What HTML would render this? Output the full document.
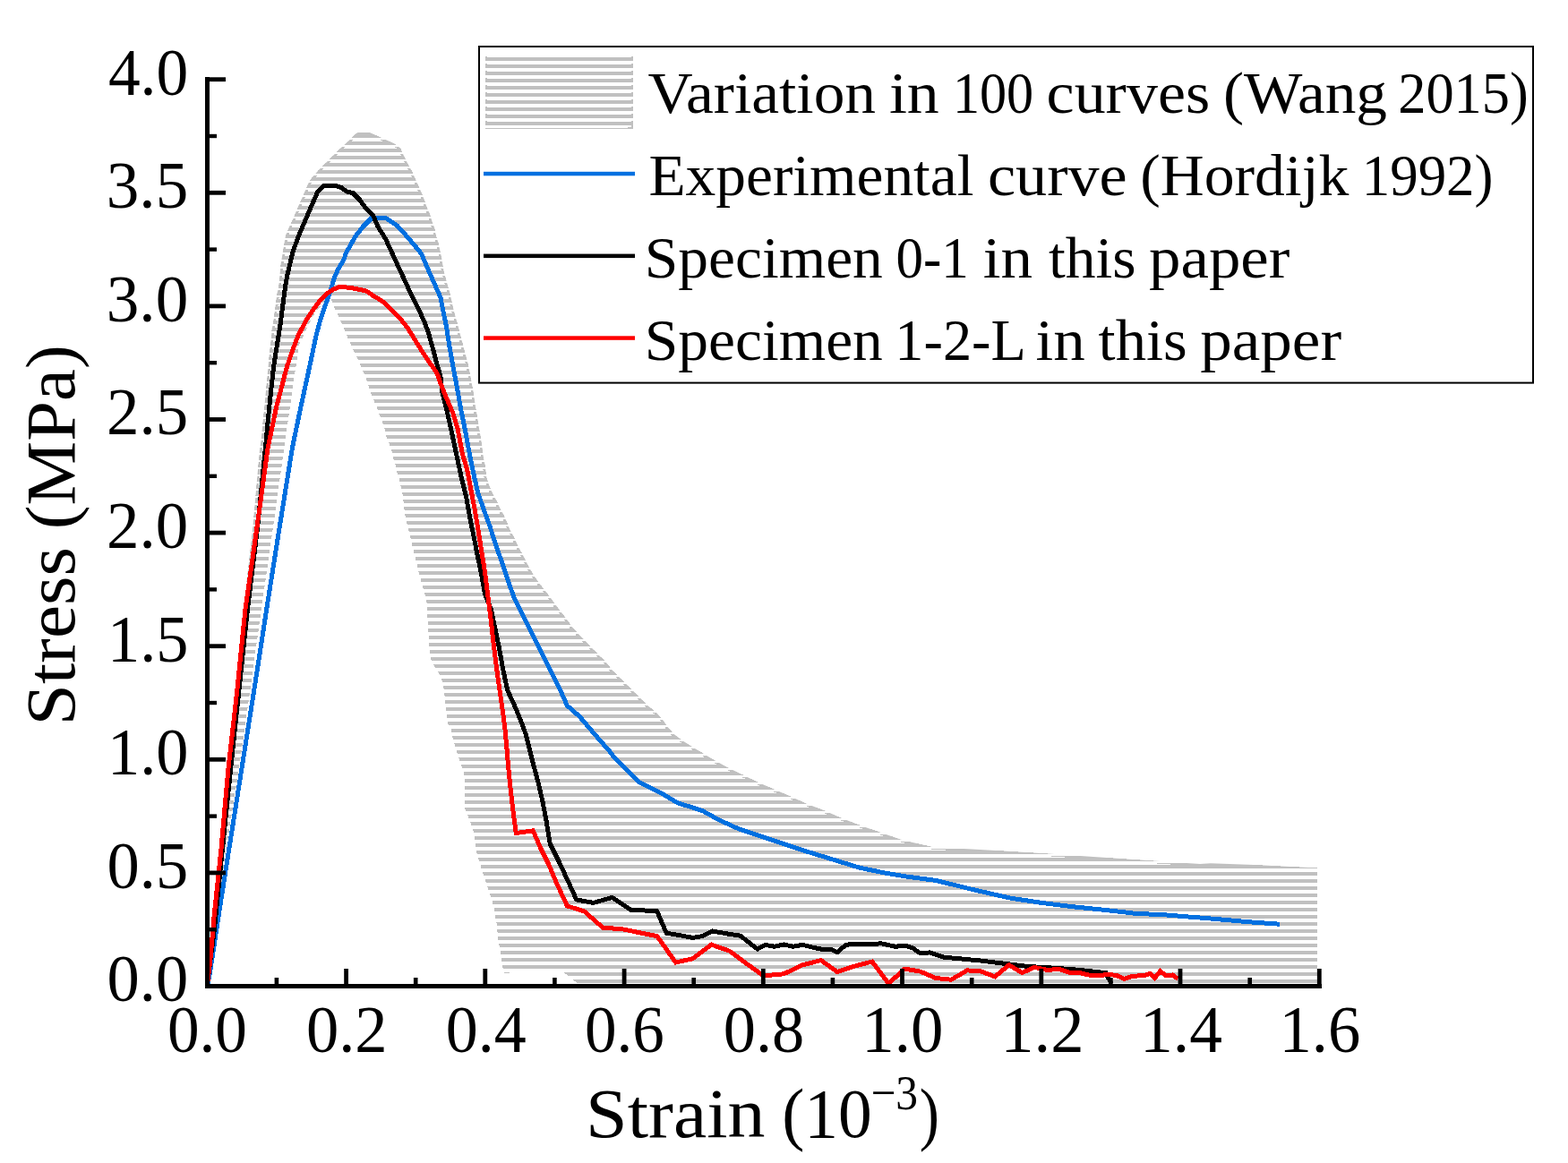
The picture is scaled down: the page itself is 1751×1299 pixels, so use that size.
<!DOCTYPE html>
<html lang="en"><head><meta charset="utf-8"><title>Stress-strain curves</title>
<style>
html,body{margin:0;padding:0;background:#fff;}
body{width:1751px;height:1299px;overflow:hidden;}
svg{display:block;}
text{font-family:"Liberation Serif",serif;fill:#000;}
</style></head><body>
<svg width="1751" height="1299" viewBox="0 0 1751 1299">
<defs>
<pattern id="h" patternUnits="userSpaceOnUse" x="0" y="6" width="8" height="8"><rect x="0" y="0" width="8" height="4" fill="#c0c0c0"/></pattern>
<pattern id="h2" patternUnits="userSpaceOnUse" x="0" y="4" width="8" height="8"><rect x="0" y="0" width="8" height="6" fill="#c0c0c0"/></pattern>
<pattern id="hl" patternUnits="userSpaceOnUse" x="0" y="64" width="8" height="8"><rect x="0" y="0" width="8" height="4" fill="#c0c0c0"/></pattern>
</defs>
<rect width="1751" height="1299" fill="#fff"/>
<clipPath id="cp"><polygon points="231.3,1101.5 237.4,1025.0 245.3,950.0 253.3,860.0 263.3,770.0 272.0,680.0 282.3,589.4 290.2,500.0 291.2,495.0 295.3,454.7 299.2,412.8 299.8,407.3 301.1,392.1 302.2,383.8 303.2,375.4 303.6,367.8 305.3,359.5 306.3,351.9 307.4,343.6 308.4,336.0 309.5,327.6 311.2,320.7 312.0,311.9 313.7,294.6 316.3,279.0 318.9,263.4 323.2,253.0 326.7,246.1 330.2,237.4 333.6,229.6 337.1,221.8 340.5,214.0 344.0,205.4 348.3,198.4 356.1,189.8 363.9,182.0 372.6,173.3 380.4,165.5 389.0,157.7 397.7,149.1 400.3,147.8 412.4,147.8 422.8,152.5 440.1,160.3 447.1,165.5 451.4,175.0 455.7,183.7 460.1,191.5 463.5,199.3 467.0,207.1 470.5,214.9 473.9,223.5 476.5,231.3 480.0,239.1 482.6,247.8 485.2,254.7 486.9,263.4 489.5,271.2 491.2,279.0 493.0,287.6 495.6,303.2 499.9,318.8 502.5,327.5 505.9,343.5 508.0,351.8 510.4,360.1 512.5,367.7 514.5,376.0 516.6,383.7 518.7,392.0 520.8,399.6 522.9,407.9 524.6,416.2 526.0,423.9 528.6,438.1 531.2,455.4 533.8,471.0 536.4,486.6 538.1,497.0 539.8,510.9 541.6,519.5 543.3,533.4 546.8,543.8 550.2,551.6 554.6,559.4 558.0,567.2 562.4,575.0 565.8,582.7 569.3,591.4 573.6,599.2 577.1,607.0 581.4,615.7 582.3,616.7 586.6,625.4 590.9,634.1 596.1,642.7 602.2,651.4 608.3,659.2 614.3,667.0 620.4,675.6 626.5,683.4 632.5,691.2 638.6,699.9 645.5,707.7 653.3,715.5 661.1,724.1 668.9,731.9 676.7,739.7 683.6,748.4 691.4,756.2 699.2,764.0 707.0,771.8 714.8,779.6 723.5,788.2 733.0,796.0 739.9,803.8 746.0,812.5 752.9,820.3 763.3,828.1 777.2,836.7 780.6,838.7 794.5,847.3 812.0,857.0 828.5,865.0 844.7,873.0 863.0,881.0 881.6,889.0 900.0,897.4 921.0,905.5 939.0,913.6 960.0,921.7 983.0,929.7 1006.0,937.8 1041.0,946.0 1103.0,949.4 1170.0,953.5 1280.0,961.0 1340.0,965.0 1352.0,964.3 1400.0,966.0 1471.0,969.5 1471.0,1101.5 646.2,1101.5 645.0,1098.4 629.3,1085.9 597.0,1086.0 563.2,1086.6 561.5,1081.1 556.3,1048.3 555.4,1039.6 554.6,1031.8 552.8,1024.0 552.0,1016.2 550.2,1008.4 547.6,999.8 545.0,992.0 542.4,984.2 539.8,976.4 537.2,968.6 534.6,959.9 532.0,951.3 530.3,937.4 528.6,928.7 526.0,920.1 522.5,911.4 519.1,902.8 519.1,871.6 518.2,864.6 515.6,856.0 513.0,848.2 510.4,840.4 507.8,831.7 505.2,822.9 503.5,814.2 499.8,808.1 498.0,792.5 496.3,775.2 494.6,762.9 490.2,752.5 485.0,743.8 480.7,735.1 479.0,717.8 478.1,702.2 477.2,686.6 476.4,671.1 472.0,655.5 467.7,639.9 464.2,624.3 459.9,607.0 455.6,589.6 452.1,574.1 450.4,558.5 449.5,552.2 447.8,544.4 446.1,535.7 443.5,527.9 441.7,520.1 439.1,511.5 437.4,503.7 434.8,495.9 431.3,487.2 429.6,479.4 427.0,471.6 423.5,463.0 420.9,455.2 417.5,447.4 414.0,438.7 411.4,430.9 408.8,423.1 405.3,414.5 401.9,406.7 398.4,398.9 394.1,390.2 390.6,382.4 387.2,374.6 383.7,366.0 380.2,358.2 376.8,350.4 372.4,341.7 368.8,331.5 363.2,338.0 356.2,344.3 349.3,353.3 346.5,358.8 342.4,367.1 338.6,375.4 334.7,383.1 333.0,392.1 332.0,399.7 330.9,406.6 330.0,412.0 323.8,454.7 317.9,496.0 316.9,503.5 305.8,583.0 291.9,680.0 279.5,770.0 266.7,860.0 252.4,949.4 241.0,1036.0 231.3,1101.5"/></clipPath>
<polygon points="231.3,1101.5 237.4,1025.0 245.3,950.0 253.3,860.0 263.3,770.0 272.0,680.0 282.3,589.4 290.2,500.0 291.2,495.0 295.3,454.7 299.2,412.8 299.8,407.3 301.1,392.1 302.2,383.8 303.2,375.4 303.6,367.8 305.3,359.5 306.3,351.9 307.4,343.6 308.4,336.0 309.5,327.6 311.2,320.7 312.0,311.9 313.7,294.6 316.3,279.0 318.9,263.4 323.2,253.0 326.7,246.1 330.2,237.4 333.6,229.6 337.1,221.8 340.5,214.0 344.0,205.4 348.3,198.4 356.1,189.8 363.9,182.0 372.6,173.3 380.4,165.5 389.0,157.7 397.7,149.1 400.3,147.8 412.4,147.8 422.8,152.5 440.1,160.3 447.1,165.5 451.4,175.0 455.7,183.7 460.1,191.5 463.5,199.3 467.0,207.1 470.5,214.9 473.9,223.5 476.5,231.3 480.0,239.1 482.6,247.8 485.2,254.7 486.9,263.4 489.5,271.2 491.2,279.0 493.0,287.6 495.6,303.2 499.9,318.8 502.5,327.5 505.9,343.5 508.0,351.8 510.4,360.1 512.5,367.7 514.5,376.0 516.6,383.7 518.7,392.0 520.8,399.6 522.9,407.9 524.6,416.2 526.0,423.9 528.6,438.1 531.2,455.4 533.8,471.0 536.4,486.6 538.1,497.0 539.8,510.9 541.6,519.5 543.3,533.4 546.8,543.8 550.2,551.6 554.6,559.4 558.0,567.2 562.4,575.0 565.8,582.7 569.3,591.4 573.6,599.2 577.1,607.0 581.4,615.7 582.3,616.7 586.6,625.4 590.9,634.1 596.1,642.7 602.2,651.4 608.3,659.2 614.3,667.0 620.4,675.6 626.5,683.4 632.5,691.2 638.6,699.9 645.5,707.7 653.3,715.5 661.1,724.1 668.9,731.9 676.7,739.7 683.6,748.4 691.4,756.2 699.2,764.0 707.0,771.8 714.8,779.6 723.5,788.2 733.0,796.0 739.9,803.8 746.0,812.5 752.9,820.3 763.3,828.1 777.2,836.7 780.6,838.7 794.5,847.3 812.0,857.0 828.5,865.0 844.7,873.0 863.0,881.0 881.6,889.0 900.0,897.4 921.0,905.5 939.0,913.6 960.0,921.7 983.0,929.7 1006.0,937.8 1041.0,946.0 1103.0,949.4 1170.0,953.5 1280.0,961.0 1340.0,965.0 1352.0,964.3 1400.0,966.0 1471.0,969.5 1471.0,1101.5 646.2,1101.5 645.0,1098.4 629.3,1085.9 597.0,1086.0 563.2,1086.6 561.5,1081.1 556.3,1048.3 555.4,1039.6 554.6,1031.8 552.8,1024.0 552.0,1016.2 550.2,1008.4 547.6,999.8 545.0,992.0 542.4,984.2 539.8,976.4 537.2,968.6 534.6,959.9 532.0,951.3 530.3,937.4 528.6,928.7 526.0,920.1 522.5,911.4 519.1,902.8 519.1,871.6 518.2,864.6 515.6,856.0 513.0,848.2 510.4,840.4 507.8,831.7 505.2,822.9 503.5,814.2 499.8,808.1 498.0,792.5 496.3,775.2 494.6,762.9 490.2,752.5 485.0,743.8 480.7,735.1 479.0,717.8 478.1,702.2 477.2,686.6 476.4,671.1 472.0,655.5 467.7,639.9 464.2,624.3 459.9,607.0 455.6,589.6 452.1,574.1 450.4,558.5 449.5,552.2 447.8,544.4 446.1,535.7 443.5,527.9 441.7,520.1 439.1,511.5 437.4,503.7 434.8,495.9 431.3,487.2 429.6,479.4 427.0,471.6 423.5,463.0 420.9,455.2 417.5,447.4 414.0,438.7 411.4,430.9 408.8,423.1 405.3,414.5 401.9,406.7 398.4,398.9 394.1,390.2 390.6,382.4 387.2,374.6 383.7,366.0 380.2,358.2 376.8,350.4 372.4,341.7 368.8,331.5 363.2,338.0 356.2,344.3 349.3,353.3 346.5,358.8 342.4,367.1 338.6,375.4 334.7,383.1 333.0,392.1 332.0,399.7 330.9,406.6 330.0,412.0 323.8,454.7 317.9,496.0 316.9,503.5 305.8,583.0 291.9,680.0 279.5,770.0 266.7,860.0 252.4,949.4 241.0,1036.0 231.3,1101.5" fill="url(#h)" shape-rendering="crispEdges"/>
<polyline points="231.3,1101.5 237.4,1025.0 245.3,950.0 253.3,860.0 263.3,770.0 272.0,680.0 282.3,589.4 290.2,500.0 291.2,495.0 295.3,454.7 299.2,412.8 299.8,407.3 301.1,392.1 302.2,383.8 303.2,375.4 303.6,367.8 305.3,359.5 306.3,351.9 307.4,343.6 308.4,336.0 309.5,327.6 311.2,320.7 312.0,311.9 313.7,294.6 316.3,279.0 318.9,263.4 323.2,253.0 326.7,246.1 330.2,237.4 333.6,229.6 337.1,221.8 340.5,214.0 344.0,205.4 348.3,198.4 356.1,189.8 363.9,182.0 372.6,173.3 380.4,165.5 389.0,157.7 397.7,149.1 400.3,147.8 412.4,147.8 422.8,152.5 440.1,160.3 447.1,165.5 451.4,175.0 455.7,183.7 460.1,191.5 463.5,199.3 467.0,207.1 470.5,214.9 473.9,223.5 476.5,231.3 480.0,239.1 482.6,247.8 485.2,254.7 486.9,263.4 489.5,271.2 491.2,279.0 493.0,287.6 495.6,303.2 499.9,318.8 502.5,327.5 505.9,343.5 508.0,351.8 510.4,360.1 512.5,367.7 514.5,376.0 516.6,383.7 518.7,392.0 520.8,399.6 522.9,407.9 524.6,416.2 526.0,423.9 528.6,438.1 531.2,455.4 533.8,471.0 536.4,486.6 538.1,497.0 539.8,510.9 541.6,519.5 543.3,533.4 546.8,543.8 550.2,551.6 554.6,559.4 558.0,567.2 562.4,575.0 565.8,582.7 569.3,591.4 573.6,599.2 577.1,607.0 581.4,615.7 582.3,616.7 586.6,625.4 590.9,634.1 596.1,642.7 602.2,651.4 608.3,659.2 614.3,667.0 620.4,675.6 626.5,683.4 632.5,691.2 638.6,699.9 645.5,707.7 653.3,715.5 661.1,724.1 668.9,731.9 676.7,739.7 683.6,748.4 691.4,756.2 699.2,764.0 707.0,771.8 714.8,779.6 723.5,788.2 733.0,796.0 739.9,803.8 746.0,812.5 752.9,820.3 763.3,828.1 777.2,836.7 780.6,838.7 794.5,847.3 812.0,857.0 828.5,865.0 844.7,873.0 863.0,881.0 881.6,889.0 900.0,897.4 921.0,905.5 939.0,913.6 960.0,921.7 983.0,929.7 1006.0,937.8 1041.0,946.0 1103.0,949.4 1170.0,953.5 1280.0,961.0 1340.0,965.0 1352.0,964.3 1400.0,966.0 1471.0,969.5" fill="none" stroke="url(#h2)" stroke-width="5.4" stroke-linejoin="round" clip-path="url(#cp)" shape-rendering="crispEdges"/>
<polyline points="231.3,1101.5 233.7,1090.8 237.5,1066.6 243.0,1030.0 255.5,950.0 269.7,860.0 283.9,770.0 297.8,680.0 312.1,589.4 326.5,499.7 335.9,454.7 345.6,410.0 349.4,392.0 352.9,375.4 357.3,358.8 362.4,343.6 366.6,331.6 370.1,321.2 372.9,311.5 377.7,300.4 384.0,290.0 386.5,282.4 396.8,264.2 405.5,253.0 415.0,243.5 430.6,243.5 443.6,252.1 452.3,261.6 462.7,273.8 470.5,283.3 478.3,301.5 485.2,317.1 492.1,332.7 493.4,340.0 495.8,351.8 498.3,363.6 500.0,374.7 501.7,385.7 503.8,397.5 505.9,409.3 508.0,420.4 509.7,429.4 514.7,457.2 519.9,483.1 525.1,510.9 529.4,531.6 533.8,550.7 539.8,568.0 546.8,587.1 552.8,606.1 558.9,623.5 567.6,649.6 574.5,668.7 583.1,686.0 591.8,703.3 600.5,720.7 609.1,738.0 617.8,755.3 626.5,772.6 633.4,788.2 647.2,800.3 657.6,812.5 668.0,824.6 680.1,838.5 687.1,847.3 700.9,861.2 713.1,873.3 726.9,880.2 740.8,887.2 756.4,896.7 770.2,901.0 784.1,905.4 803.0,915.9 826.0,926.3 861.0,937.8 895.5,949.4 930.0,960.0 960.0,969.2 988.0,975.0 1011.0,978.9 1045.6,983.5 1080.0,992.0 1094.6,995.5 1129.3,1003.3 1163.9,1008.5 1198.6,1012.8 1233.2,1016.3 1267.9,1020.3 1300.0,1021.8 1352.0,1026.0 1395.0,1029.8 1429.0,1032.2" fill="none" stroke="#0070e0" stroke-width="5" stroke-linejoin="miter" stroke-miterlimit="3" shape-rendering="crispEdges"/>
<polyline points="231.3,1101.5 239.6,1036.0 248.3,949.4 257.5,860.0 267.0,770.0 276.5,680.0 287.6,589.4 296.5,499.4 300.7,454.7 305.5,410.0 312.7,364.7 318.6,320.0 320.6,308.4 326.7,282.4 332.8,265.1 343.1,240.9 354.4,214.9 362.2,207.1 374.3,207.1 381.3,209.7 387.3,214.0 394.2,215.7 402.0,223.5 408.1,232.2 416.8,240.9 422.0,253.0 430.6,266.8 440.1,287.6 450.5,310.1 460.9,332.7 464.6,340.0 469.5,349.7 474.4,360.8 478.5,371.9 481.6,383.0 484.7,394.1 487.5,405.1 490.3,414.8 492.4,423.2 493.7,437.0 498.9,457.8 505.2,486.6 510.4,510.9 515.6,535.1 520.8,555.9 525.1,580.1 529.4,600.9 533.8,623.5 537.2,639.3 541.6,663.5 548.5,680.8 552.8,701.6 557.2,722.4 561.5,746.6 566.7,770.9 576.2,791.7 583.1,809.0 587.5,821.1 591.8,838.5 595.3,852.5 601.3,875.0 605.7,894.1 610.0,916.6 614.3,942.6 624.7,963.4 635.1,985.9 643.8,1005.0 662.8,1008.4 683.6,1002.4 704.4,1016.2 721.7,1017.1 733.8,1017.9 744.2,1042.2 759.8,1044.8 773.7,1047.4 784.1,1045.7 794.5,1040.5 795.6,1040.0 811.2,1042.8 826.8,1045.2 845.8,1060.1 854.5,1055.3 864.9,1057.3 875.3,1054.9 885.7,1057.3 896.1,1055.3 906.5,1057.9 916.8,1060.1 927.2,1060.1 935.0,1063.6 944.6,1055.3 953.2,1054.4 970.5,1054.4 984.4,1053.9 1000.0,1057.3 1010.4,1056.1 1019.0,1058.7 1027.7,1064.8 1038.1,1063.9 1053.7,1069.1 1095.7,1073.1 1124.2,1076.6 1147.0,1079.4 1175.6,1081.1 1198.5,1082.8 1221.3,1085.1 1235.0,1086.8 1237.3,1092.0 1241.3,1098.3" fill="none" stroke="#000" stroke-width="5" stroke-linejoin="miter" stroke-miterlimit="3" shape-rendering="crispEdges"/>
<polyline points="231.3,1101.5 235.4,1066.6 238.9,1025.0 246.8,950.0 254.8,860.0 264.9,770.0 274.0,680.0 286.9,589.4 299.2,499.7 308.6,454.7 320.4,409.7 326.4,392.0 332.7,375.4 341.3,358.8 350.0,345.4 356.9,336.4 363.9,328.8 370.8,324.0 377.7,320.8 381.9,320.5 391.6,321.5 401.3,323.3 409.6,325.3 416.5,330.2 424.8,335.0 431.4,340.0 440.4,349.0 448.7,358.0 455.6,367.0 461.2,376.0 466.7,385.0 472.3,394.1 477.8,402.4 483.4,410.0 487.5,416.2 490.3,423.2 492.4,429.4 499.8,447.4 505.8,461.3 511.0,478.6 516.5,507.4 521.7,524.7 526.0,547.2 530.3,569.8 534.6,595.7 539.0,623.5 541.6,639.3 545.0,667.0 548.5,694.7 551.1,718.9 554.6,746.6 558.0,770.9 561.5,795.1 564.1,815.9 566.2,838.5 567.6,856.0 570.2,882.0 572.8,904.5 576.2,930.5 595.3,927.9 603.9,947.8 612.6,965.1 621.3,985.9 633.4,1011.9 652.4,1017.9 673.2,1036.1 695.7,1037.9 716.5,1042.2 733.8,1045.7 754.6,1075.0 773.7,1070.7 794.5,1055.1 814.6,1062.2 832.0,1075.2 852.8,1089.9 875.3,1087.8 896.1,1077.8 916.8,1072.6 935.0,1085.6 953.2,1079.5 974.0,1074.0 992.2,1098.6 1010.4,1082.1 1027.7,1085.1 1045.0,1092.5 1062.3,1094.2 1080.0,1083.9 1094.6,1084.7 1111.1,1090.8 1126.7,1077.8 1141.4,1086.5 1155.3,1080.4 1169.1,1083.3 1183.0,1082.6 1193.4,1086.1 1205.5,1086.5 1215.9,1089.0 1228.0,1089.9 1236.7,1088.2 1247.1,1089.6 1255.7,1093.4 1264.4,1090.3 1278.3,1089.6 1284.3,1087.3 1289.5,1092.5 1295.6,1084.7 1302.5,1089.9 1309.4,1089.0 1315.5,1093.4" fill="none" stroke="#ff0000" stroke-width="5" stroke-linejoin="miter" stroke-miterlimit="3" shape-rendering="crispEdges"/>
<g fill="#000">
<rect x="229" y="86" width="5" height="1018"/>
<rect x="229" y="1099" width="1247" height="5"/>
<rect x="232" y="1036.0" width="10" height="4.4"/>
<rect x="232" y="972.5" width="20" height="4.8"/>
<rect x="232" y="909.4" width="10" height="4.4"/>
<rect x="232" y="845.9" width="20" height="4.8"/>
<rect x="232" y="782.8" width="10" height="4.4"/>
<rect x="232" y="719.3" width="20" height="4.8"/>
<rect x="232" y="656.2" width="10" height="4.4"/>
<rect x="232" y="592.7" width="20" height="4.8"/>
<rect x="232" y="529.6" width="10" height="4.4"/>
<rect x="232" y="466.1" width="20" height="4.8"/>
<rect x="232" y="403.0" width="10" height="4.4"/>
<rect x="232" y="339.5" width="20" height="4.8"/>
<rect x="232" y="276.4" width="10" height="4.4"/>
<rect x="232" y="212.9" width="20" height="4.8"/>
<rect x="232" y="149.8" width="10" height="4.4"/>
<rect x="232" y="86.3" width="20" height="4.8"/>
<rect x="306.6" y="1092" width="4.6" height="10"/>
<rect x="384.2" y="1082" width="4.8" height="20"/>
<rect x="461.9" y="1092" width="4.6" height="10"/>
<rect x="539.4" y="1082" width="4.8" height="20"/>
<rect x="617.1" y="1092" width="4.6" height="10"/>
<rect x="694.7" y="1082" width="4.8" height="20"/>
<rect x="772.4" y="1092" width="4.6" height="10"/>
<rect x="849.9" y="1082" width="4.8" height="20"/>
<rect x="927.6" y="1092" width="4.6" height="10"/>
<rect x="1005.1" y="1082" width="4.8" height="20"/>
<rect x="1082.9" y="1092" width="4.6" height="10"/>
<rect x="1160.4" y="1082" width="4.8" height="20"/>
<rect x="1238.1" y="1092" width="4.6" height="10"/>
<rect x="1315.6" y="1082" width="4.8" height="20"/>
<rect x="1393.4" y="1092" width="4.6" height="10"/>
<rect x="1470.9" y="1082" width="4.8" height="20"/>
</g>
<g font-size="74">
<text x="119.6" y="1118.3" textLength="90.6" lengthAdjust="spacingAndGlyphs">0.0</text>
<text x="119.6" y="991.7" textLength="90.6" lengthAdjust="spacingAndGlyphs">0.5</text>
<text x="120.0" y="865.1" textLength="90.4" lengthAdjust="spacingAndGlyphs">1.0</text>
<text x="120.0" y="738.5" textLength="90.4" lengthAdjust="spacingAndGlyphs">1.5</text>
<text x="119.1" y="611.9" textLength="91.1" lengthAdjust="spacingAndGlyphs">2.0</text>
<text x="119.1" y="485.3" textLength="91.1" lengthAdjust="spacingAndGlyphs">2.5</text>
<text x="118.8" y="358.7" textLength="91.4" lengthAdjust="spacingAndGlyphs">3.0</text>
<text x="118.8" y="232.1" textLength="91.4" lengthAdjust="spacingAndGlyphs">3.5</text>
<text x="120.9" y="105.5" textLength="89.3" lengthAdjust="spacingAndGlyphs">4.0</text>
<text x="186.9" y="1174.8" textLength="89.1" lengthAdjust="spacingAndGlyphs">0.0</text>
<text x="341.9" y="1174.8" textLength="90.7" lengthAdjust="spacingAndGlyphs">0.2</text>
<text x="497.7" y="1174.8" textLength="90.0" lengthAdjust="spacingAndGlyphs">0.4</text>
<text x="653.0" y="1174.8" textLength="88.9" lengthAdjust="spacingAndGlyphs">0.6</text>
<text x="807.8" y="1174.8" textLength="90.5" lengthAdjust="spacingAndGlyphs">0.8</text>
<text x="962.3" y="1174.8" textLength="91.0" lengthAdjust="spacingAndGlyphs">1.0</text>
<text x="1117.3" y="1174.8" textLength="93.3" lengthAdjust="spacingAndGlyphs">1.2</text>
<text x="1273.1" y="1174.8" textLength="91.9" lengthAdjust="spacingAndGlyphs">1.4</text>
<text x="1428.5" y="1174.8" textLength="90.8" lengthAdjust="spacingAndGlyphs">1.6</text>
</g>
<text y="1269.8" font-size="78.5"><tspan x="654.0" textLength="200.4" lengthAdjust="spacingAndGlyphs">Strain</tspan> <tspan x="873.2" textLength="100.6" lengthAdjust="spacingAndGlyphs">(10</tspan><tspan x="972.5" dy="-30.5" font-size="55" textLength="52.6" lengthAdjust="spacingAndGlyphs">−3</tspan><tspan x="1026.8" dy="30.5" textLength="22.2" lengthAdjust="spacingAndGlyphs">)</tspan></text>
<text y="0.0" font-size="78.5" transform="translate(83.2,805) rotate(-90)"><tspan x="-5.6" textLength="199.7" lengthAdjust="spacingAndGlyphs">Stress</tspan> <tspan x="213.7" textLength="206.1" lengthAdjust="spacingAndGlyphs">(MPa)</tspan></text>
<rect x="535" y="52" width="1177" height="375.6" fill="#fff" stroke="#000" stroke-width="2"/>
<rect x="542" y="64" width="165" height="79" fill="url(#hl)"/>
<g fill="#c0c0c0"><rect x="542" y="63" width="2" height="1"/><rect x="705" y="63" width="2" height="1"/><rect x="542" y="71" width="2" height="1"/><rect x="705" y="71" width="2" height="1"/><rect x="542" y="79" width="2" height="1"/><rect x="705" y="79" width="2" height="1"/><rect x="542" y="87" width="2" height="1"/><rect x="705" y="87" width="2" height="1"/><rect x="542" y="95" width="2" height="1"/><rect x="705" y="95" width="2" height="1"/><rect x="542" y="103" width="2" height="1"/><rect x="705" y="103" width="2" height="1"/><rect x="542" y="111" width="2" height="1"/><rect x="705" y="111" width="2" height="1"/><rect x="542" y="119" width="2" height="1"/><rect x="705" y="119" width="2" height="1"/><rect x="542" y="127" width="2" height="1"/><rect x="705" y="127" width="2" height="1"/><rect x="542" y="135" width="2" height="1"/><rect x="705" y="135" width="2" height="1"/><rect x="542" y="143" width="165" height="1"/><rect x="705" y="140" width="2" height="4"/><rect x="701" y="142" width="4" height="1"/></g>
<rect x="540" y="191.8" width="169" height="4.5" fill="#0070e0"/>
<rect x="540" y="283.6" width="169" height="4.5" fill="#000"/>
<rect x="540" y="375.3" width="169" height="4.5" fill="#ff0000"/>
<text y="126.2" font-size="66"><tspan x="723.6" textLength="254.5" lengthAdjust="spacingAndGlyphs">Variation</tspan> <tspan x="992.9" textLength="55.9" lengthAdjust="spacingAndGlyphs">in</tspan> <tspan x="1063.9" textLength="90.3" lengthAdjust="spacingAndGlyphs">100</tspan> <tspan x="1168.6" textLength="182.6" lengthAdjust="spacingAndGlyphs">curves</tspan> <tspan x="1366.0" textLength="183.0" lengthAdjust="spacingAndGlyphs">(Wang</tspan> <tspan x="1561.2" textLength="145.6" lengthAdjust="spacingAndGlyphs">2015)</tspan></text>
<text y="217.5" font-size="66"><tspan x="724.4" textLength="363.1" lengthAdjust="spacingAndGlyphs">Experimental</tspan> <tspan x="1102.9" textLength="155.9" lengthAdjust="spacingAndGlyphs">curve</tspan> <tspan x="1273.3" textLength="233.0" lengthAdjust="spacingAndGlyphs">(Hordijk</tspan> <tspan x="1520.8" textLength="146.7" lengthAdjust="spacingAndGlyphs">1992)</tspan></text>
<text y="310.0" font-size="66"><tspan x="719.8" textLength="266.0" lengthAdjust="spacingAndGlyphs">Specimen</tspan> <tspan x="1000.5" textLength="81.4" lengthAdjust="spacingAndGlyphs">0-1</tspan> <tspan x="1097.8" textLength="55.3" lengthAdjust="spacingAndGlyphs">in</tspan> <tspan x="1170.9" textLength="97.7" lengthAdjust="spacingAndGlyphs">this</tspan> <tspan x="1283.1" textLength="157.3" lengthAdjust="spacingAndGlyphs">paper</tspan></text>
<text y="401.7" font-size="66"><tspan x="719.8" textLength="266.0" lengthAdjust="spacingAndGlyphs">Specimen</tspan> <tspan x="999.3" textLength="144.2" lengthAdjust="spacingAndGlyphs">1-2-L</tspan> <tspan x="1156.4" textLength="55.3" lengthAdjust="spacingAndGlyphs">in</tspan> <tspan x="1226.6" textLength="99.2" lengthAdjust="spacingAndGlyphs">this</tspan> <tspan x="1340.2" textLength="157.9" lengthAdjust="spacingAndGlyphs">paper</tspan></text>
</svg>
</body></html>
